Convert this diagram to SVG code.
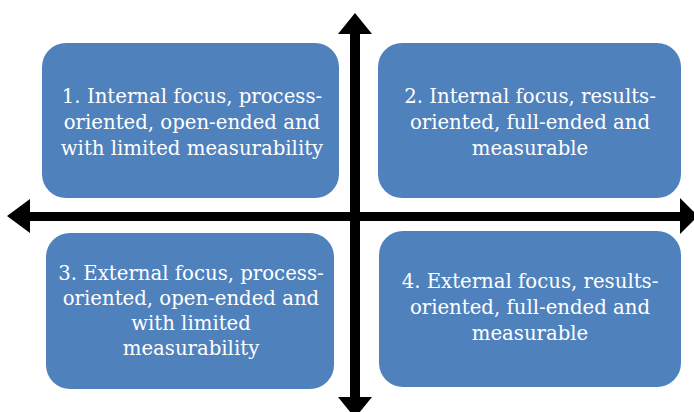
<svg xmlns="http://www.w3.org/2000/svg" width="694" height="412" viewBox="0 0 694 412">
  <style>
    .box { fill: #4F81BD; }
    .lbl { fill: #ffffff; font-family: "DejaVu Serif", "Liberation Serif", serif; font-size: 19.7px; text-anchor: middle; }
    .axis { fill: #000000; }
  </style>
  <rect width="694" height="412" fill="#ffffff"/>
  <g id="connectors">
    <path class="axis" d="M355,13 L372,34 L360,34 L360,212 L680,212 L680,198 L698,216 L680,234 L680,221 L360,221 L360,397 L372,397 L355,418 L338,397 L350,397 L350,221 L30,221 L30,233 L7,216 L30,199 L30,212 L350,212 L350,34 L338,34 Z"/>
  </g>
  <g id="node1">
    <rect class="box" x="42" y="43" width="297" height="155" rx="24"/>
    <text class="lbl" x="192" y="103">1. Internal focus, process-</text>
    <text class="lbl" x="192" y="129">oriented, open-ended and</text>
    <text class="lbl" x="192" y="155">with limited measurability</text>
  </g>
  <g id="node2">
    <rect class="box" x="378" y="43" width="303" height="155" rx="24"/>
    <text class="lbl" x="530" y="103">2. Internal focus, results-</text>
    <text class="lbl" x="530" y="129">oriented, full-ended and</text>
    <text class="lbl" x="530" y="155">measurable</text>
  </g>
  <g id="node3">
    <rect class="box" x="46" y="233" width="288" height="156" rx="24"/>
    <text class="lbl" x="191" y="280">3. External focus, process-</text>
    <text class="lbl" x="191" y="305">oriented, open-ended and</text>
    <text class="lbl" x="191" y="330">with limited</text>
    <text class="lbl" x="191" y="355">measurability</text>
  </g>
  <g id="node4">
    <rect class="box" x="379" y="231" width="302" height="156" rx="24"/>
    <text class="lbl" x="530" y="288">4. External focus, results-</text>
    <text class="lbl" x="530" y="314">oriented, full-ended and</text>
    <text class="lbl" x="530" y="340">measurable</text>
  </g>
</svg>
